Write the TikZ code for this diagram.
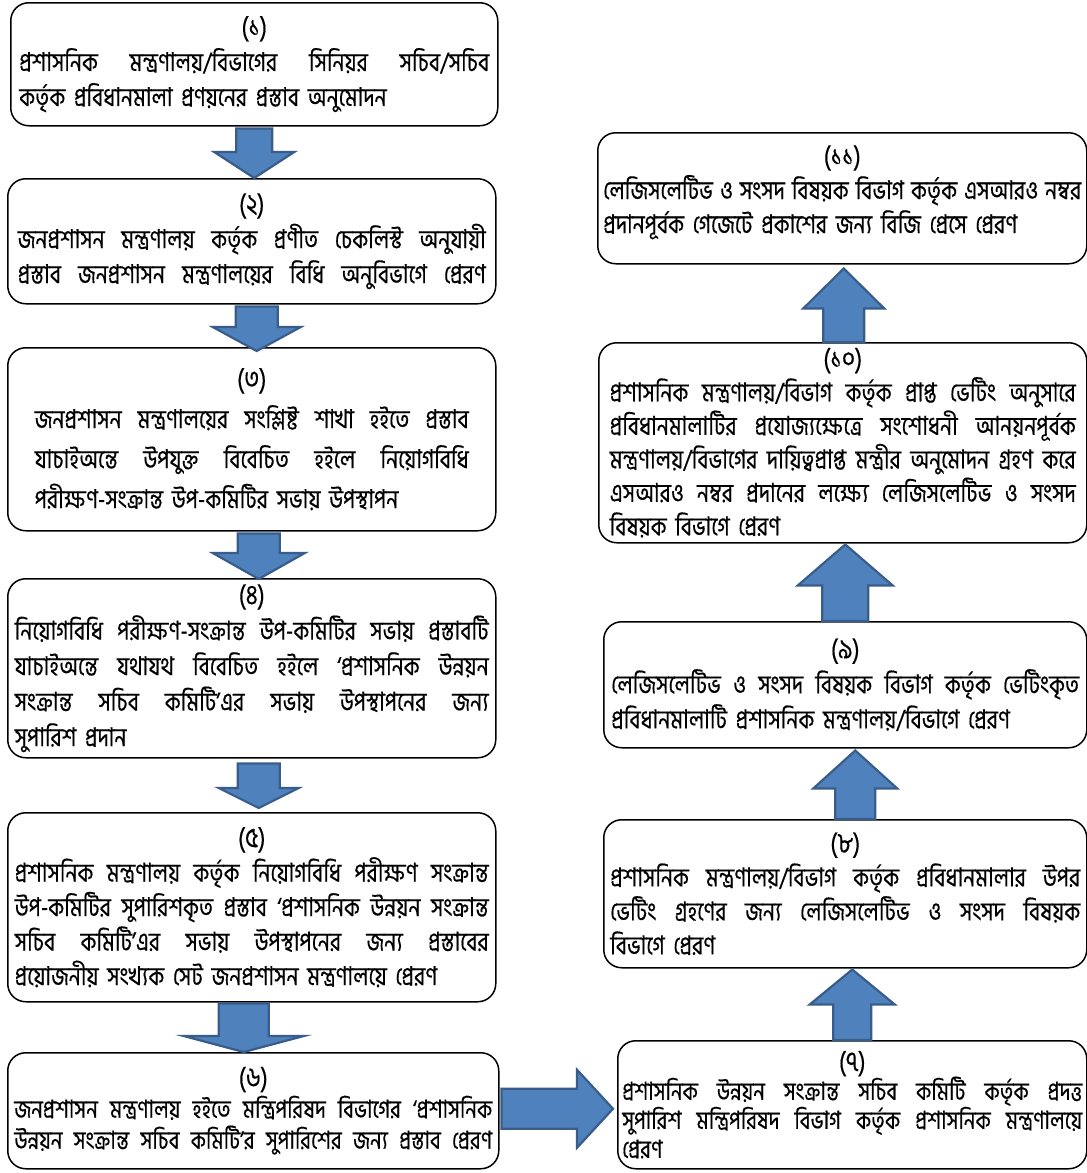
\documentclass[tikz,border=0pt]{standalone}
\usepackage{fontspec}
\usetikzlibrary{calc}
\newfontfamily\bn[Script=Bengali,FakeStretch=0.82,FakeBold=0.4]{Hind Siliguri}
\definecolor{arrowfill}{HTML}{4F81BD}
\definecolor{arrowedge}{HTML}{385D8A}
\def\jw#1 #2\jend{#1\ifx\relax#2\relax\else\hskip .28em plus 1fil minus .2em\relax\jw#2\jend\fi}
\newcommand{\J}[2]{\leavevmode\hbox to #1{\jw#2 \jend}}
\def\lw#1 #2\jend{#1\ifx\relax#2\relax\else\hskip .28em minus .2em\relax\lw#2\jend\fi}
\newcommand{\Lft}[2]{\leavevmode\hbox to #1{\lw#2 \jend\hfil}}
\newcommand{\C}[2]{\makebox[#1]{\fontsize{28}{28}\selectfont #2}}
\newcommand{\D}[1]{\rule[-#1]{0pt}{#1}}
% vertical block arrow: tail coordinate, tip coordinate, shaft width, head width, signed head length
\newcommand{\vblk}[5]{%
  \path #1 coordinate (vT) #2 coordinate (vQ);
  \path (vT |- vQ) coordinate (vP);
  \draw[blk] ($(vT)+({-#3/2},0)$) -- ($(vP)+({-#3/2},{-#5})$) -- ($(vP)+({-#4/2},{-#5})$) -- (vP)
    -- ($(vP)+({#4/2},{-#5})$) -- ($(vP)+({#3/2},{-#5})$) -- ($(vT)+({#3/2},0)$) -- cycle;
}
\newcommand{\hblk}[5]{%
  \path #1 coordinate (hT) #2 coordinate (hQ);
  \path (hT -| hQ) coordinate (hP);
  \draw[blk] ($(hT)+(0,{-#3/2})$) -- ($(hP)+({-#5},{-#3/2})$) -- ($(hP)+({-#5},{-#4/2})$) -- (hP)
    -- ($(hP)+({-#5},{#4/2})$) -- ($(hP)+({-#5},{#3/2})$) -- ($(hT)+(0,{#3/2})$) -- cycle;
}
\tikzset{
  box/.style={draw, line width=1.5pt, rounded corners=18pt, anchor=north west, inner sep=0pt,
    align=left, fill=white},
  blk/.style={fill=arrowfill, draw=arrowedge, line width=2.2pt, line join=miter},
}
\begin{document}
\begin{tikzpicture}[x=1pt,y=-1pt]
\useasboundingbox (0,0) rectangle (1087,1173);
\fill[white] (0,0) rectangle (1087,1173);

% ---------------- left column ----------------
\node[box, minimum width=487pt, minimum height=123pt, text width=470pt,
  font=\bn\fontsize{26}{35}\selectfont] (b1) at (10,2)
  {\C{470pt}{(১)}\\
   \J{470pt}{প্রশাসনিক মন্ত্রণালয়/বিভাগের সিনিয়র সচিব/সচিব}\\
   কর্তৃক প্রবিধানমালা প্রণয়নের প্রস্তাব অনুমোদন};

\node[box, minimum width=488pt, minimum height=125pt, text width=468pt,
  font=\bn\fontsize{26}{35}\selectfont] (b2) at (7,178)
  {\C{468pt}{(২)}\\
   \J{468pt}{জনপ্রশাসন মন্ত্রণালয় কর্তৃক প্রণীত চেকলিস্ট অনুযায়ী}\\
   \J{468pt}{প্রস্তাব জনপ্রশাসন মন্ত্রণালয়ের বিধি অনুবিভাগে প্রেরণ}};

\node[box, minimum width=488pt, minimum height=183pt, text width=434pt,
  font=\bn\fontsize{26}{40}\selectfont] (b3) at (7,347)
  {\C{434pt}{(৩)}\\
   \J{434pt}{জনপ্রশাসন মন্ত্রণালয়ের সংশ্লিষ্ট শাখা হইতে প্রস্তাব}\\
   \J{434pt}{যাচাইঅন্তে উপযুক্ত বিবেচিত হইলে নিয়োগবিধি}\\
   পরীক্ষণ-সংক্রান্ত উপ-কমিটির সভায় উপস্থাপন};

\node[box, minimum width=488pt, minimum height=179pt, text width=474pt,
  font=\bn\fontsize{26}{35.5}\selectfont] (b4) at (7,578)
  {\C{474pt}{(৪)}\\
   \J{474pt}{নিয়োগবিধি পরীক্ষণ-সংক্রান্ত উপ-কমিটির সভায় প্রস্তাবটি}\\
   \J{474pt}{যাচাইঅন্তে যথাযথ বিবেচিত হইলে ‘প্রশাসনিক উন্নয়ন}\\
   \J{474pt}{সংক্রান্ত সচিব কমিটি’এর সভায় উপস্থাপনের জন্য}\\
   সুপারিশ প্রদান};

\node[box, minimum width=488pt, minimum height=189pt, text width=474pt,
  font=\bn\fontsize{26}{34.5}\selectfont] (b5) at (7,812)
  {\C{474pt}{(৫)}\\
   \J{474pt}{প্রশাসনিক মন্ত্রণালয় কর্তৃক নিয়োগবিধি পরীক্ষণ সংক্রান্ত}\\
   \J{474pt}{উপ-কমিটির সুপারিশকৃত প্রস্তাব ‘প্রশাসনিক উন্নয়ন সংক্রান্ত}\\
   \J{474pt}{সচিব কমিটি’এর সভায় উপস্থাপনের জন্য প্রস্তাবের}\\
   প্রয়োজনীয় সংখ্যক সেট জনপ্রশাসন মন্ত্রণালয়ে প্রেরণ};

\node[box, minimum width=491pt, minimum height=116pt, text width=478pt,
  font=\bn\fontsize{25}{31}\selectfont] (b6) at (7,1052)
  {\C{478pt}{(৬)}\\
   \J{478pt}{জনপ্রশাসন মন্ত্রণালয় হইতে মন্ত্রিপরিষদ বিভাগের ‘প্রশাসনিক}\\
   \J{478pt}{উন্নয়ন সংক্রান্ত সচিব কমিটি’র সুপারিশের জন্য প্রস্তাব প্রেরণ}};

% ---------------- right column ----------------
\node[box, minimum width=469pt, minimum height=128pt, text width=460pt,
  font=\bn\fontsize{25}{29}\selectfont] (b7) at (617,1040)
  {\C{460pt}{(৭)}\\
   \J{460pt}{প্রশাসনিক উন্নয়ন সংক্রান্ত সচিব কমিটি কর্তৃক প্রদত্ত}\\
   \J{460pt}{সুপারিশ মন্ত্রিপরিষদ বিভাগ কর্তৃক প্রশাসনিক মন্ত্রণালয়ে}\\
   প্রেরণ};

\node[box, minimum width=483pt, minimum height=148pt, text width=470pt,
  font=\bn\fontsize{26}{34}\selectfont] (b8) at (603,819)
  {\C{470pt}{(৮)}\\
   \J{470pt}{প্রশাসনিক মন্ত্রণালয়/বিভাগ কর্তৃক প্রবিধানমালার উপর}\\
   \J{470pt}{ভেটিং গ্রহণের জন্য লেজিসলেটিভ ও সংসদ বিষয়ক}\\
   বিভাগে প্রেরণ};

\node[box, minimum width=483pt, minimum height=126pt, text width=468pt,
  font=\bn\fontsize{26}{35}\selectfont] (b9) at (603,621)
  {\C{468pt}{(৯)}\\
   \J{468pt}{লেজিসলেটিভ ও সংসদ বিষয়ক বিভাগ কর্তৃক ভেটিংকৃত}\\
   প্রবিধানমালাটি প্রশাসনিক মন্ত্রণালয়/বিভাগে প্রেরণ};

\node[box, minimum width=488pt, minimum height=200pt, text width=466pt,
  font=\bn\fontsize{26}{33.5}\selectfont] (b10) at (598,342)
  {\rule{0pt}{14pt}\C{466pt}{(১০)}\\
   \J{466pt}{প্রশাসনিক মন্ত্রণালয়/বিভাগ কর্তৃক প্রাপ্ত ভেটিং অনুসারে}\\
   \J{466pt}{প্রবিধানমালাটির প্রযোজ্যক্ষেত্রে সংশোধনী আনয়নপূর্বক}\\
   \J{466pt}{মন্ত্রণালয়/বিভাগের দায়িত্বপ্রাপ্ত মন্ত্রীর অনুমোদন গ্রহণ করে}\\
   \J{466pt}{এসআরও নম্বর প্রদানের লক্ষ্যে লেজিসলেটিভ ও সংসদ}\\
   বিষয়ক বিভাগে প্রেরণ};

\node[box, minimum width=489pt, minimum height=131pt, text width=478pt,
  font=\bn\fontsize{26}{34}\selectfont] (b11) at (597,132)
  {\C{478pt}{(১১)}\\
   \Lft{478pt}{লেজিসলেটিভ ও সংসদ বিষয়ক বিভাগ কর্তৃক এসআরও নম্বর}\\
   প্রদানপূর্বক গেজেটে প্রকাশের জন্য বিজি প্রেসে প্রেরণ\D{18pt}};

% ---------------- block arrows ----------------
\vblk{($(b1.south)+(0,2)$)}{($(b2.north)+(0,0)$)}{36}{80}{26}
\vblk{($(b2.south)+(5,2)$)}{($(b3.north)+(0,4)$)}{42}{88}{24}
\vblk{($(b3.south)+(7,2)$)}{($(b4.north)+(0,1)$)}{42}{92}{26}
\vblk{($(b4.south)+(7,5)$)}{($(b5.north)+(0,-4)$)}{42}{80}{20}
\vblk{($(b5.south)+(-8,1)$)}{($(b6.north)+(0,0)$)}{50}{120}{16}
\hblk{($(b6.east)+(2,-2)$)}{($(b7.west)+(-4,0)$)}{40}{78}{36}
\vblk{($(b7.north)+(0,0)$)}{($(b8.south)+(0,1)$)}{38}{85}{-35}
\vblk{($(b8.north)+(10,0)$)}{($(b9.south)+(0,2)$)}{40}{84}{-38}
\vblk{($(b9.north)+(0,0)$)}{($(b10.south)+(0,1)$)}{46}{95}{-41}
\vblk{($(b10.north)+(1,0)$)}{($(b11.south)+(0,4)$)}{41}{81}{-40}
\end{tikzpicture}
\end{document}
